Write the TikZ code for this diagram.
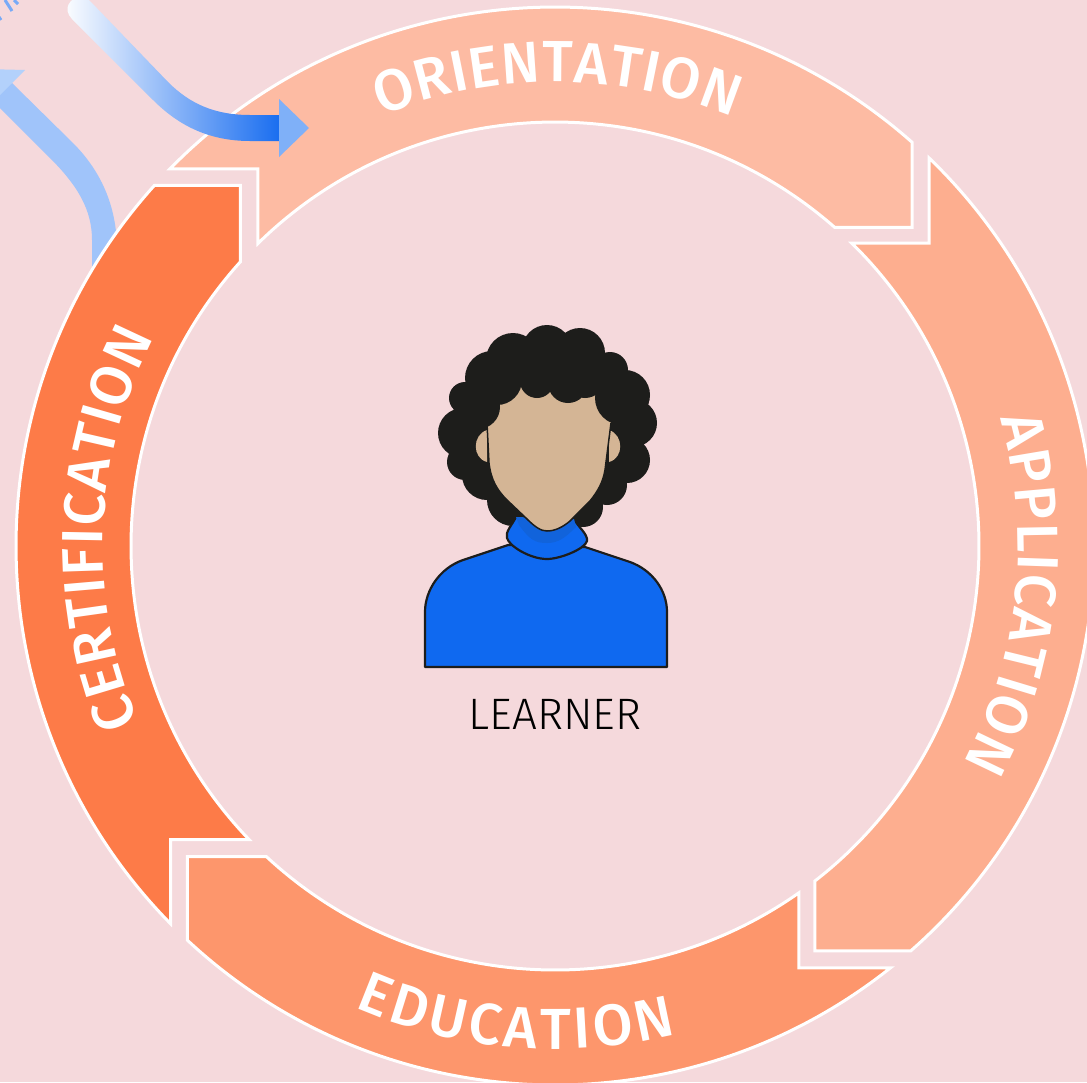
\documentclass[tikz,border=0pt]{standalone}
\usepackage{fontspec}
\setmainfont{Fira Sans}
\newfontfamily\ringfont[UprightFont={* Medium}]{Fira Sans}
\newfontfamily\learnerfont[UprightFont={* Light}]{Fira Sans}
\usetikzlibrary{decorations.text}
\definecolor{pagebg}{HTML}{F5D9DC}
\definecolor{orientcol}{HTML}{FDBBA3}
\definecolor{applycol}{HTML}{FDAE8F}
\definecolor{educol}{HTML}{FD966C}
\definecolor{certcol}{HTML}{FD7B48}
\definecolor{backarrow}{HTML}{A0C4FA}
\definecolor{backhead}{HTML}{B3D1FB}
\definecolor{frontarrow}{HTML}{1A6EF0}
\definecolor{fronthead}{HTML}{7FB0F8}
\definecolor{hair}{HTML}{1D1D1B}
\definecolor{skin}{HTML}{D4B595}
\definecolor{shirt}{HTML}{0F69F0}
\definecolor{shirtdark}{HTML}{1163DB}
\tikzset{
  ringband/.style={draw=white,line width=3pt,miter limit=20},
  ringtext/.style={decorate,decoration={text along path,text align={fit to path},
    text={|\fontsize{58pt}{58pt}\ringfont\color{white}|#1}}},
  outline/.style={draw=hair,line width=2.2pt,line join=round}
}
\begin{document}
\begin{tikzpicture}[x=1pt,y=-1pt]
    \clip (0,0) rectangle (1087,1082);
    \fill[pagebg] (0,0) rectangle (1087,1082);

    % arrow behind the ring
    \fill[backarrow] (12,83) -- (73,143) .. controls (100,170) and (117,205) .. (117,250) -- (117,290) -- (92,290) -- (92,240) .. controls (92,210) and (78,186) .. (50,158) -- (-10,98) -- cycle;
    \fill[backhead] (25,70) -- (-16,69) -- (-15,110) -- cycle;
    \draw[backarrow!70!frontarrow,line width=3pt] (5,0) -- (12,11);
    \draw[backarrow!70!frontarrow,line width=3pt] (14,0) -- (18,4);
    \draw[backarrow!70!frontarrow,line width=3pt] (-1,17) -- (1,20);

    % ring
    \begin{scope}[shift={(555,546)},y=1pt]
        \draw[ringband,fill=orientcol] (135.6:539pt) -| (134.5:424pt) arc[start angle=134.5,end angle=48.7,radius=424pt] -| (48.5:539pt) arc[start angle=48.5,end angle=135.6,radius=539pt] -- cycle;
        \draw[ringband,fill=applycol] (46.05:539pt) |- (45.6:424pt) arc[start angle=45.6,end angle=-52.2,radius=424pt] |- (-48.7:539pt) arc[start angle=-48.7,end angle=46.05,radius=539pt] -- cycle;
        \draw[ringband,fill=educol] (308.5:539pt) -| (305.1:424pt) arc[start angle=305.1,end angle=227.1,radius=424pt] -| (227:539pt) arc[start angle=227,end angle=308.5,radius=539pt] -- cycle;
        \draw[ringband,fill=certcol] (224.5:539pt) |- (223.85:424pt) arc[start angle=223.85,end angle=137.9,radius=424pt] |- (138:539pt) arc[start angle=138,end angle=224.5,radius=539pt] -- cycle;

        \path[ringtext=ORIENTATION] (112:464pt) arc[start angle=112,end angle=67.5,radius=464pt];
        \path[ringtext=APPLICATION] (16:463pt) arc[start angle=16,end angle=-28,radius=463pt];
        \path[ringtext=EDUCATION] (246.5:503pt) arc[start angle=246.5,end angle=284,radius=503pt];
        \path[ringtext=CERTIFICATION] (203:452pt) arc[start angle=203,end angle=152.5,radius=452pt];
    \end{scope}

    % arrow in front of the ring
    \shade[left color=white,right color=frontarrow] (91,2) -- (168,82) .. controls (190,104) and (215,115) .. (250,115) -- (279,115) -- (279,141) -- (250,141) .. controls (207,141) and (177,124) .. (153,100) -- (72,19) .. controls (62,9) and (70,-3) .. (81,-3) .. controls (85,-3) and (88,-1) .. (91,2) -- cycle;
    \fill[fronthead] (279,99) -- (309,128) -- (279,157) -- cycle;

    % learner: hair, ears, body, collar, face, hairline
    \fill[hair] (547,350) circle[radius=25pt] (513,360) circle[radius=27pt] (580,353) circle[radius=25pt]
        (492,378) circle[radius=27pt] (465,398) circle[radius=16pt] (463,433) circle[radius=25pt]
        (465,462) circle[radius=18pt] (487,475) circle[radius=25pt] (513,500) circle[radius=26pt]
        (610,370) circle[radius=18pt] (625,395) circle[radius=25pt] (633,423) circle[radius=24pt]
        (627,460) circle[radius=23pt] (607,485) circle[radius=20pt] (583,507) circle[radius=20pt]
        (547,430) circle[radius=75pt];
    \fill[skin] (487,430) .. controls (472,435) and (472,458) .. (487,462) -- cycle;
    \fill[skin] (609,430) .. controls (624,435) and (624,458) .. (609,462) -- cycle;
    \path[outline,fill=shirt] (508,545) -- (463,560) .. controls (440,568) and (425,590) .. (425,612) -- (425,667) -- (667,667) -- (667,612) .. controls (667,590) and (652,570) .. (630,562) -- (585,547) -- cycle;
    \path[outline,fill=shirt] (516,517) .. controls (512,525) and (505,532) .. (507,538) .. controls (509,546) and (530,559) .. (547,559) .. controls (560,559) and (585,549) .. (587,541) .. controls (588,534) and (578,527) .. (574,519) -- cycle;
    \fill[shirtdark] (519,525) .. controls (530,540) and (535,543) .. (547,543) .. controls (558,543) and (565,538) .. (576,527) -- (574,519) -- (516,517) -- cycle;
    \fill[skin] (487,423) -- (489,463) .. controls (491,480) and (497,490) .. (507,500) -- (527,519) .. controls (535,527) and (541,531) .. (547,531) .. controls (555,531) and (563,527) .. (570,521) -- (590,501) .. controls (598,491) and (603,482) .. (605,470) -- (611,423) -- (600,380) -- (500,380) -- cycle;
    \draw[hair,line width=1.5pt] (487,423) -- (489,463) .. controls (491,480) and (497,490) .. (507,500) -- (527,519) .. controls (535,527) and (541,531) .. (547,531) .. controls (555,531) and (563,527) .. (570,521) -- (590,501) .. controls (598,491) and (603,482) .. (605,470) -- (611,423);
    \fill[hair] (537,381) circle[radius=17pt] (568,383) circle[radius=20pt] (497,380) circle[radius=25pt] (478,407) circle[radius=22pt] (622,398) circle[radius=27pt] (585,378) circle[radius=20pt] (530,365) circle[radius=20pt];

    \node[font=\learnerfont\fontsize{44pt}{44pt}\selectfont] (learner) at (555,714) {LEARNER};
\end{tikzpicture}
\end{document}
